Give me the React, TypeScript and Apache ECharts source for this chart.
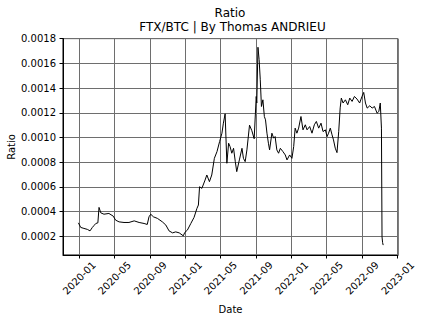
import React, { useEffect, useRef } from "react";
import * as echarts from "echarts";

const dates: string[] = [
  "2019-12-29", "2020-01-06", "2020-01-17", "2020-01-29", "2020-02-07", "2020-02-15", "2020-02-21", "2020-02-27",
  "2020-03-05", "2020-03-09", "2020-03-15", "2020-03-26", "2020-04-12", "2020-04-27", "2020-05-05", "2020-05-17",
  "2020-06-03", "2020-06-20", "2020-07-08", "2020-07-25", "2020-08-11", "2020-08-22", "2020-08-28", "2020-09-03",
  "2020-09-12", "2020-09-26", "2020-10-13", "2020-10-25", "2020-11-05", "2020-11-17", "2020-11-28", "2020-12-10",
  "2020-12-24", "2020-12-29", "2021-01-07", "2021-01-19", "2021-01-30", "2021-02-09", "2021-02-14", "2021-02-18",
  "2021-02-26", "2021-03-09", "2021-03-15", "2021-03-24", "2021-04-01", "2021-04-10", "2021-04-19", "2021-04-28",
  "2021-05-06", "2021-05-11", "2021-05-17", "2021-05-23", "2021-05-29", "2021-06-03", "2021-06-09", "2021-06-15",
  "2021-06-21", "2021-06-26", "2021-07-05", "2021-07-14", "2021-07-19", "2021-07-25", "2021-07-31", "2021-08-09",
  "2021-08-17", "2021-08-25", "2021-09-01", "2021-09-03", "2021-09-07", "2021-09-11", "2021-09-15", "2021-09-19",
  "2021-09-24", "2021-09-29", "2021-10-03", "2021-10-08", "2021-10-13", "2021-10-17", "2021-10-25", "2021-10-31",
  "2021-11-05", "2021-11-11", "2021-11-17", "2021-11-23", "2021-12-02", "2021-12-10", "2021-12-16", "2021-12-25",
  "2022-01-02", "2022-01-08", "2022-01-13", "2022-01-19", "2022-01-25", "2022-02-02", "2022-02-09", "2022-02-17",
  "2022-02-23", "2022-03-04", "2022-03-12", "2022-03-20", "2022-03-27", "2022-04-04", "2022-04-12", "2022-04-19",
  "2022-04-27", "2022-05-03", "2022-05-08", "2022-05-14", "2022-05-20", "2022-05-25", "2022-05-31", "2022-06-06",
  "2022-06-12", "2022-06-17", "2022-06-21", "2022-06-27", "2022-07-05", "2022-07-13", "2022-07-20", "2022-07-28",
  "2022-08-05", "2022-08-14", "2022-08-23", "2022-08-31", "2022-09-06", "2022-09-12", "2022-09-18", "2022-09-27",
  "2022-10-05", "2022-10-13", "2022-10-22", "2022-10-28", "2022-11-02", "2022-11-06", "2022-11-08", "2022-11-10",
  "2022-11-12",
];

const ratio: number[] = [
  0.00031, 0.000273, 0.000265, 0.000257, 0.000245, 0.000273, 0.000289, 0.000305,
  0.00031, 0.000435, 0.000391, 0.00038, 0.000386, 0.000364, 0.000332, 0.000318,
  0.000313, 0.000313, 0.000326, 0.000313, 0.000305, 0.000297, 0.000359, 0.00038,
  0.000359, 0.000346, 0.000318, 0.000292, 0.000245, 0.000229, 0.000237, 0.000229,
  0.000205, 0.000232, 0.000251, 0.000305, 0.000354, 0.000427, 0.000454, 0.000602,
  0.000589, 0.000656, 0.000697, 0.000643, 0.000697, 0.000832, 0.000886, 0.000967,
  0.001035, 0.001116, 0.001192, 0.000792, 0.000954, 0.000927, 0.000873, 0.000913,
  0.000805, 0.000724, 0.000819, 0.000913, 0.000832, 0.000805, 0.0009, 0.0011,
  0.001055, 0.00099, 0.001332, 0.001279, 0.00173, 0.00163, 0.001467, 0.001251,
  0.001305, 0.00117, 0.001143, 0.001035, 0.000954, 0.0009, 0.001035, 0.000995,
  0.001008, 0.0009, 0.000873, 0.000913, 0.000886, 0.000859, 0.000819, 0.000859,
  0.000832, 0.000927, 0.001076, 0.001035, 0.001076, 0.00117, 0.001062, 0.001103,
  0.001062, 0.001089, 0.001035, 0.001103, 0.00113, 0.001076, 0.001116, 0.001048,
  0.001062, 0.001008, 0.001035, 0.001076, 0.001022, 0.000981, 0.000914, 0.000878,
  0.00105, 0.00124, 0.001319, 0.001279, 0.001305, 0.001265, 0.001319, 0.001292,
  0.001332, 0.001311, 0.001279, 0.001332, 0.001365, 0.001279, 0.001238, 0.001257,
  0.001238, 0.001251, 0.001197, 0.00121, 0.001279, 0.001076, 0.000197, 0.00015,
  0.00013,
];

const xTickLabels: string[] = [
  "2020-01", "2020-05", "2020-09", "2021-01", "2021-05", "2021-09",
  "2022-01", "2022-05", "2022-09", "2023-01",
];

const yTicks: number[] = [0.0002, 0.0004, 0.0006, 0.0008, 0.001, 0.0012, 0.0014, 0.0016, 0.0018];

const X_MIN = "2019-11-06";
const X_MAX = "2023-01-02";
const Y_MIN = 0.00005;
const Y_MAX = 0.0018;

const toUTC = (s: string): number => {
  const p = s.split("-").map(Number);
  return Date.UTC(p[0], p[1] - 1, p[2] || 1);
};

const FONT = "DejaVu Sans";

export default function App() {
  const ref = useRef<HTMLDivElement>(null);

  useEffect(() => {
    if (!ref.current) return;
    const chart = echarts.init(ref.current, undefined, { renderer: "svg" });
    const data = dates.map((d, i) => [toUTC(d), ratio[i]]);
    const xTicks = xTickLabels.map((s) => toUTC(s + "-01"));

    chart.setOption({
      animation: false,
      backgroundColor: "#ffffff",
      textStyle: { fontFamily: FONT },
      grid: {
        left: 63,
        top: 38.6,
        right: 23,
        bottom: 67,
        show: true,
        borderColor: "#000000",
        borderWidth: 1,
        backgroundColor: "transparent",
      },
      xAxis: {
        type: "value",
        min: toUTC(X_MIN),
        max: toUTC(X_MAX),
        axisLine: { show: true, onZero: false, lineStyle: { color: "#000000", width: 1 } },
        axisTick: {
          show: true,
          length: 3.5,
          inside: false,
          customValues: xTicks,
          lineStyle: { color: "#000000", width: 1 },
        },
        splitLine: { show: true, lineStyle: { color: "#6e6e6e", width: 1 } },
        axisLabel: {
          customValues: xTicks,
          rotate: 45,
          align: "center",
          verticalAlign: "middle",
          margin: 23,
          fontSize: 10,
          fontFamily: FONT,
          color: "#000000",
          showMinLabel: true,
          showMaxLabel: true,
          formatter: (v: number) => {
            const d = new Date(v);
            const m = d.getUTCMonth() + 1;
            return d.getUTCFullYear() + "-" + (m < 10 ? "0" + m : "" + m);
          },
        },
      },
      yAxis: {
        type: "value",
        min: Y_MIN,
        max: Y_MAX,
        axisLine: { show: true, lineStyle: { color: "#000000", width: 1 } },
        axisTick: {
          show: true,
          length: 3.5,
          inside: false,
          customValues: yTicks,
          lineStyle: { color: "#000000", width: 1 },
        },
        splitLine: { show: true, lineStyle: { color: "#6e6e6e", width: 1 } },
        axisLabel: {
          customValues: yTicks,
          margin: 7,
          fontSize: 10,
          fontFamily: FONT,
          color: "#000000",
          formatter: (v: number) => v.toFixed(4),
        },
      },
      series: [
        {
          type: "line",
          data,
          symbol: "none",
          smooth: false,
          lineStyle: { color: "#000000", width: 1 },
        },
      ],
      graphic: [
        {
          type: "text",
          x: 230,
          y: 13.3,
          style: {
            text: "Ratio",
            fontSize: 12,
            fontFamily: FONT,
            fill: "#000000",
            align: "center",
            verticalAlign: "middle",
          },
        },
        {
          type: "text",
          x: 232.5,
          y: 27,
          style: {
            text: "FTX/BTC | By Thomas ANDRIEU",
            fontSize: 12,
            fontFamily: FONT,
            fill: "#000000",
            align: "center",
            verticalAlign: "middle",
          },
        },
        {
          type: "text",
          x: 11.5,
          y: 147,
          rotation: Math.PI / 2,
          style: {
            text: "Ratio",
            fontSize: 10,
            fontFamily: FONT,
            fill: "#000000",
            align: "center",
            verticalAlign: "middle",
          },
        },
        {
          type: "text",
          x: 230.5,
          y: 309,
          style: {
            text: "Date",
            fontSize: 10,
            fontFamily: FONT,
            fill: "#000000",
            align: "center",
            verticalAlign: "middle",
          },
        },
      ],
    });

    return () => {
      chart.dispose();
    };
  }, []);

  return (
    <div
      ref={ref}
      style={{ position: "absolute", left: 0, top: 0, width: 421, height: 322 }}
    />
  );
}
